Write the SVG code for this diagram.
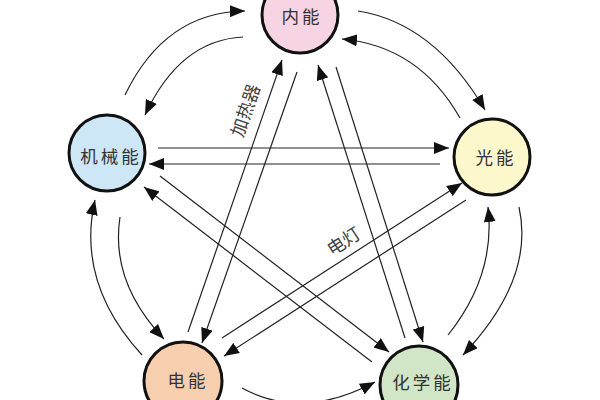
<svg xmlns="http://www.w3.org/2000/svg" width="600" height="400" viewBox="0 0 600 400">
<style>
.node{stroke:#111;stroke-width:3}
.lbl{font-family:"Noto Sans CJK SC","Noto Sans CJK JP",sans-serif;font-size:17.5px;fill:#333;text-anchor:middle;dominant-baseline:central;letter-spacing:3px}
.note{font-family:"Noto Sans CJK SC","Noto Sans CJK JP",sans-serif;font-size:18px;fill:#444;text-anchor:middle;dominant-baseline:central}
.c{fill:none;stroke:#222;stroke-width:1.2}
.a{marker-end:url(#arr)}
</style>
<defs>
<marker id="arr" markerUnits="userSpaceOnUse" markerWidth="15" markerHeight="12" refX="15" refY="6" orient="auto">
<path d="M0,0 L15,6 L0,12 z" fill="#111"/>
</marker>
</defs>
<rect width="600" height="400" fill="#fff"/>
<g id="connectors">
<path class="c a" d="M125,95 Q165,12 245,11"/>
<path class="c a" d="M243,37 Q180,40 145,115"/>
<path class="c a" d="M358,11 Q434,23 485,110"/>
<path class="c a" d="M460,118 Q419,46 342,39"/>
<path class="c a" d="M142,355 Q76,283 95,200"/>
<path class="c a" d="M120,217 Q110,282 164,339"/>
<path class="c a" d="M448,335 Q496,275 488,207"/>
<path class="c a" d="M519,207 Q535,279 463,355"/>
<path class="c a" d="M242,388 Q302,421 375,382"/>
<path class="c a" d="M158,148 L449,148"/>
<path class="c a" d="M440,164 L149,164"/>
<path class="c a" d="M297,72 L202,343"/>
<path class="c a" d="M188,332 L282,60"/>
<path class="c a" d="M405,338 L318,65"/>
<path class="c a" d="M336,67 L423,342"/>
<path class="c a" d="M160,176 L389,352"/>
<path class="c a" d="M372,362 L144,187"/>
<path class="c a" d="M222,338 L462,183"/>
<path class="c a" d="M466,200 L224,356"/>
<text class="note" transform="translate(244,110) rotate(-71)">加热器</text>
<text class="note" transform="translate(343,240) rotate(-33)">电灯</text>
</g>
<g id="n-neineng">
<circle class="node" cx="300" cy="15" r="38" fill="#f6d4e4"/>
<text class="lbl" x="302" y="15">内能</text>
</g>
<g id="n-jixieneng">
<circle class="node" cx="107" cy="153" r="38" fill="#cde7f6"/>
<text class="lbl" x="111" y="155">机械能</text>
</g>
<g id="n-guangneng">
<circle class="node" cx="492" cy="157" r="38" fill="#fdf8cc"/>
<text class="lbl" x="496" y="156">光能</text>
</g>
<g id="n-dianneng">
<circle class="node" cx="183" cy="381" r="39" fill="#f8cfae"/>
<text class="lbl" x="188" y="379">电能</text>
</g>
<g id="n-huaxueneng">
<circle class="node" cx="419" cy="385" r="39" fill="#d0e6c6"/>
<text class="lbl" x="423" y="381">化学能</text>
</g>
</svg>
